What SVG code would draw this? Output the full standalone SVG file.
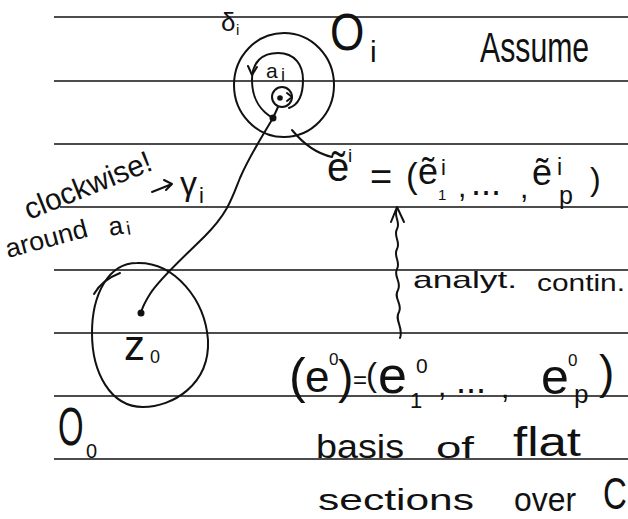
<svg xmlns="http://www.w3.org/2000/svg" width="628" height="519" viewBox="0 0 628 519">
<style>
.t{font-family:"Liberation Sans",Arial,sans-serif;fill:#111}
.ln{stroke:#111;stroke-width:1.6}
.s{fill:none;stroke:#111;stroke-width:2;stroke-linecap:round;stroke-linejoin:round}
.d{fill:#111}
</style>
<rect width="628" height="519" fill="#fff"/>
<g id="ruled-lines">
<line class="ln" x1="54" y1="17" x2="628" y2="17"/>
<line class="ln" x1="54" y1="81" x2="628" y2="81"/>
<line class="ln" x1="54" y1="144" x2="628" y2="144"/>
<line class="ln" x1="60" y1="207" x2="628" y2="207"/>
<line class="ln" x1="54" y1="270" x2="628" y2="270"/>
<line class="ln" x1="54" y1="333" x2="628" y2="333"/>
<line class="ln" x1="54" y1="396" x2="628" y2="396"/>
<line class="ln" x1="54" y1="459" x2="628" y2="459"/>
</g>
<g id="node-Oi">
<ellipse class="s" cx="284" cy="85" rx="50" ry="52"/>
<text class="t" font-size="26"><tspan x="221" y="31">δ</tspan><tspan x="236" y="35" font-size="15">i</tspan></text>
<text class="t" font-size="52" transform="translate(330 50) scale(0.85 1)">O</text>
<text class="t" x="370" y="62" font-size="30">i</text>
</g>
<g id="node-ai">
<path class="s" d="M273 118 C262 112 252 100 252 80 C252 62 262 53 278 53 C295 53 303 65 303 80 C303 95 298 105 289 108"/>
<path class="s" d="M248 66 L252 75 L257 67"/>
<ellipse class="s" cx="282" cy="97" rx="10" ry="10"/>
<path class="s" d="M278 107 L273 118"/>
<path class="s" d="M287 93 L292 97 L287 101"/>
<circle class="d" cx="280" cy="98" r="2.8"/>
<circle class="d" cx="273" cy="118" r="3.5"/>
<text class="t"><tspan x="266" y="78" font-size="21">a</tspan><tspan x="281" y="81" font-size="18">i</tspan></text>
</g>
<g id="node-assume">
<text class="t" font-size="42" transform="translate(480 62) scale(0.72 1)">Assume</text>
</g>
<g id="node-clockwise">
<text class="t" font-size="30" textLength="135" lengthAdjust="spacingAndGlyphs" transform="translate(29 220) rotate(-22)">clockwise!</text>
<text class="t" font-size="26" textLength="84" lengthAdjust="spacingAndGlyphs" transform="translate(8 258) rotate(-15)">around</text>
<text class="t" font-size="26" transform="translate(110 236) rotate(-10)"><tspan>a</tspan><tspan dx="3" dy="2" font-size="19">i</tspan></text>
<text class="t"><tspan x="180" y="195" font-size="34">γ</tspan><tspan x="199" y="203" font-size="22">i</tspan></text>
</g>
<g id="node-z0">
<path class="s" d="M137 263 C175 262 205 300 208 340 C210 385 172 407 143 407 C110 407 92 372 92 333 C92 295 108 263 137 263 Z"/>
<path class="s" d="M94 294 Q102 280 120 273"/>
<circle class="d" cx="141" cy="313" r="3.5"/>
<text class="t"><tspan x="124" y="360" font-size="42">z</tspan><tspan x="150" y="363" font-size="18">0</tspan></text>
</g>
<g id="node-O0">
<text class="t" font-size="53" transform="translate(58 445) scale(0.62 1)">O</text>
<text class="t" x="86" y="458" font-size="20">0</text>
</g>
<g id="node-ei">
<text class="t"><tspan x="327" y="181" font-size="40">ẽ</tspan><tspan x="348" y="162" font-size="19">i</tspan><tspan x="370" y="190" font-size="38">=</tspan><tspan x="406" y="188" font-size="35">(</tspan><tspan x="418" y="184" font-size="36">ẽ</tspan><tspan x="441" y="175" font-size="22">i</tspan><tspan x="438" y="200" font-size="15">1</tspan><tspan x="458" y="197" font-size="30">,</tspan><tspan x="471" y="195" font-size="36">...</tspan><tspan x="520" y="198" font-size="30">,</tspan><tspan x="532" y="185" font-size="36">ẽ</tspan><tspan x="557" y="175" font-size="23">i</tspan><tspan x="559" y="204" font-size="25">p</tspan><tspan x="590" y="190" font-size="32">)</tspan></text>
</g>
<g id="node-analyt">
<text class="t" x="413" y="288" font-size="24" textLength="104" lengthAdjust="spacingAndGlyphs">analyt.</text>
<text class="t" x="537" y="291" font-size="24" textLength="88" lengthAdjust="spacingAndGlyphs">contin.</text>
</g>
<g id="node-e0">
<text class="t"><tspan x="289" y="393" font-size="50">(</tspan><tspan x="305" y="392" font-size="44">e</tspan><tspan x="329" y="365" font-size="17">0</tspan><tspan x="338" y="393" font-size="46">)</tspan><tspan x="353" y="388" font-size="24">=</tspan><tspan x="366" y="386" font-size="33">(</tspan><tspan x="378" y="393" font-size="52">e</tspan><tspan x="416" y="373" font-size="21">0</tspan><tspan x="410" y="408" font-size="22">1</tspan><tspan x="438" y="396" font-size="30">,</tspan><tspan x="456" y="393" font-size="36">...</tspan><tspan x="501" y="398" font-size="30">,</tspan><tspan x="541" y="394" font-size="50">e</tspan><tspan x="568" y="366" font-size="17">0</tspan><tspan x="574" y="403" font-size="26">p</tspan><tspan x="599" y="388" font-size="46">)</tspan></text>
</g>
<g id="node-basis">
<text class="t" x="316" y="458" font-size="34" textLength="88" lengthAdjust="spacingAndGlyphs">basis</text>
<text class="t" x="436" y="458" font-size="30" textLength="38" lengthAdjust="spacingAndGlyphs">of</text>
<text class="t" x="513" y="456" font-size="40" textLength="68" lengthAdjust="spacingAndGlyphs">flat</text>
<text class="t" x="318" y="510" font-size="30" textLength="156" lengthAdjust="spacingAndGlyphs">sections</text>
<text class="t" x="514" y="511" font-size="34" textLength="62" lengthAdjust="spacingAndGlyphs">over</text>
<text class="t" font-size="44" transform="translate(603 509) scale(0.75 1)">C</text>
</g>
<g id="connectors">
<path class="s" d="M273 118 C263 135 250 155 240 178 C232 198 228 213 205 236 C185 256 160 278 150 294 C145 302 142 308 141 313"/>
<path class="s" d="M292 130 Q310 152 332 157"/>
<path class="s" d="M397 209 C393 216 401 222 397 229 C393 236 401 242 397 249 C393 256 401 262 397 269 C393 276 402 282 398 290 C393 298 403 304 399 312 C394 320 404 328 400 338"/>
<path class="s" d="M391 222 L397 207 L404 222"/>
<path class="s" d="M152 192 L172 184 M164 180 L172 184 L166 190"/>
</g>
</svg>
